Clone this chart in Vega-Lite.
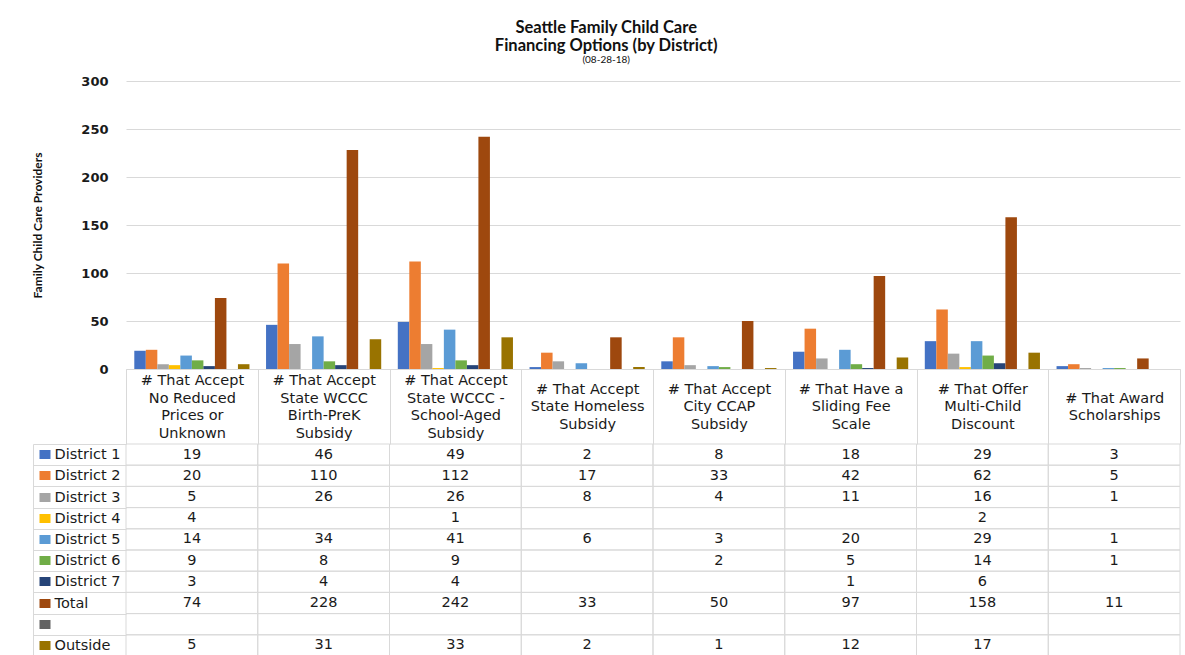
{
  "$schema": "https://vega.github.io/schema/vega-lite/v6.json",
  "padding": {"left": 31, "top": 19, "right": 5, "bottom": 0},
  "background": "white",
  "title": {
    "text": ["Seattle Family Child Care", "Financing Options (by District)"],
    "subtitle": "(08-28-18)",
    "anchor": "middle",
    "frame": "bounds",
    "font": "Lato",
    "fontSize": 16.5,
    "fontWeight": "bold",
    "lineHeight": 18,
    "color": "#111111",
    "subtitleFont": "Lato",
    "subtitleFontSize": 10,
    "subtitleColor": "#111111",
    "subtitlePadding": 1,
    "offset": 10
  },
  "config": {"view": {"stroke": null}},
  "datasets": {
    "cells": [
      {"cat": "# That Accept No Reduced Prices or Unknown", "series": "District 1", "value": 19},
      {"cat": "# That Accept No Reduced Prices or Unknown", "series": "District 2", "value": 20},
      {"cat": "# That Accept No Reduced Prices or Unknown", "series": "District 3", "value": 5},
      {"cat": "# That Accept No Reduced Prices or Unknown", "series": "District 4", "value": 4},
      {"cat": "# That Accept No Reduced Prices or Unknown", "series": "District 5", "value": 14},
      {"cat": "# That Accept No Reduced Prices or Unknown", "series": "District 6", "value": 9},
      {"cat": "# That Accept No Reduced Prices or Unknown", "series": "District 7", "value": 3},
      {"cat": "# That Accept No Reduced Prices or Unknown", "series": "Total", "value": 74},
      {"cat": "# That Accept No Reduced Prices or Unknown", "series": " ", "value": null},
      {"cat": "# That Accept No Reduced Prices or Unknown", "series": "Outside", "value": 5},
      {"cat": "# That Accept State WCCC Birth-PreK Subsidy", "series": "District 1", "value": 46},
      {"cat": "# That Accept State WCCC Birth-PreK Subsidy", "series": "District 2", "value": 110},
      {"cat": "# That Accept State WCCC Birth-PreK Subsidy", "series": "District 3", "value": 26},
      {"cat": "# That Accept State WCCC Birth-PreK Subsidy", "series": "District 4", "value": null},
      {"cat": "# That Accept State WCCC Birth-PreK Subsidy", "series": "District 5", "value": 34},
      {"cat": "# That Accept State WCCC Birth-PreK Subsidy", "series": "District 6", "value": 8},
      {"cat": "# That Accept State WCCC Birth-PreK Subsidy", "series": "District 7", "value": 4},
      {"cat": "# That Accept State WCCC Birth-PreK Subsidy", "series": "Total", "value": 228},
      {"cat": "# That Accept State WCCC Birth-PreK Subsidy", "series": " ", "value": null},
      {"cat": "# That Accept State WCCC Birth-PreK Subsidy", "series": "Outside", "value": 31},
      {"cat": "# That Accept State WCCC - School-Aged Subsidy", "series": "District 1", "value": 49},
      {"cat": "# That Accept State WCCC - School-Aged Subsidy", "series": "District 2", "value": 112},
      {"cat": "# That Accept State WCCC - School-Aged Subsidy", "series": "District 3", "value": 26},
      {"cat": "# That Accept State WCCC - School-Aged Subsidy", "series": "District 4", "value": 1},
      {"cat": "# That Accept State WCCC - School-Aged Subsidy", "series": "District 5", "value": 41},
      {"cat": "# That Accept State WCCC - School-Aged Subsidy", "series": "District 6", "value": 9},
      {"cat": "# That Accept State WCCC - School-Aged Subsidy", "series": "District 7", "value": 4},
      {"cat": "# That Accept State WCCC - School-Aged Subsidy", "series": "Total", "value": 242},
      {"cat": "# That Accept State WCCC - School-Aged Subsidy", "series": " ", "value": null},
      {"cat": "# That Accept State WCCC - School-Aged Subsidy", "series": "Outside", "value": 33},
      {"cat": "# That Accept State Homeless Subsidy", "series": "District 1", "value": 2},
      {"cat": "# That Accept State Homeless Subsidy", "series": "District 2", "value": 17},
      {"cat": "# That Accept State Homeless Subsidy", "series": "District 3", "value": 8},
      {"cat": "# That Accept State Homeless Subsidy", "series": "District 4", "value": null},
      {"cat": "# That Accept State Homeless Subsidy", "series": "District 5", "value": 6},
      {"cat": "# That Accept State Homeless Subsidy", "series": "District 6", "value": null},
      {"cat": "# That Accept State Homeless Subsidy", "series": "District 7", "value": null},
      {"cat": "# That Accept State Homeless Subsidy", "series": "Total", "value": 33},
      {"cat": "# That Accept State Homeless Subsidy", "series": " ", "value": null},
      {"cat": "# That Accept State Homeless Subsidy", "series": "Outside", "value": 2},
      {"cat": "# That Accept City CCAP Subsidy", "series": "District 1", "value": 8},
      {"cat": "# That Accept City CCAP Subsidy", "series": "District 2", "value": 33},
      {"cat": "# That Accept City CCAP Subsidy", "series": "District 3", "value": 4},
      {"cat": "# That Accept City CCAP Subsidy", "series": "District 4", "value": null},
      {"cat": "# That Accept City CCAP Subsidy", "series": "District 5", "value": 3},
      {"cat": "# That Accept City CCAP Subsidy", "series": "District 6", "value": 2},
      {"cat": "# That Accept City CCAP Subsidy", "series": "District 7", "value": null},
      {"cat": "# That Accept City CCAP Subsidy", "series": "Total", "value": 50},
      {"cat": "# That Accept City CCAP Subsidy", "series": " ", "value": null},
      {"cat": "# That Accept City CCAP Subsidy", "series": "Outside", "value": 1},
      {"cat": "# That Have a Sliding Fee Scale", "series": "District 1", "value": 18},
      {"cat": "# That Have a Sliding Fee Scale", "series": "District 2", "value": 42},
      {"cat": "# That Have a Sliding Fee Scale", "series": "District 3", "value": 11},
      {"cat": "# That Have a Sliding Fee Scale", "series": "District 4", "value": null},
      {"cat": "# That Have a Sliding Fee Scale", "series": "District 5", "value": 20},
      {"cat": "# That Have a Sliding Fee Scale", "series": "District 6", "value": 5},
      {"cat": "# That Have a Sliding Fee Scale", "series": "District 7", "value": 1},
      {"cat": "# That Have a Sliding Fee Scale", "series": "Total", "value": 97},
      {"cat": "# That Have a Sliding Fee Scale", "series": " ", "value": null},
      {"cat": "# That Have a Sliding Fee Scale", "series": "Outside", "value": 12},
      {"cat": "# That Offer Multi-Child Discount", "series": "District 1", "value": 29},
      {"cat": "# That Offer Multi-Child Discount", "series": "District 2", "value": 62},
      {"cat": "# That Offer Multi-Child Discount", "series": "District 3", "value": 16},
      {"cat": "# That Offer Multi-Child Discount", "series": "District 4", "value": 2},
      {"cat": "# That Offer Multi-Child Discount", "series": "District 5", "value": 29},
      {"cat": "# That Offer Multi-Child Discount", "series": "District 6", "value": 14},
      {"cat": "# That Offer Multi-Child Discount", "series": "District 7", "value": 6},
      {"cat": "# That Offer Multi-Child Discount", "series": "Total", "value": 158},
      {"cat": "# That Offer Multi-Child Discount", "series": " ", "value": null},
      {"cat": "# That Offer Multi-Child Discount", "series": "Outside", "value": 17},
      {"cat": "# That Award Scholarships", "series": "District 1", "value": 3},
      {"cat": "# That Award Scholarships", "series": "District 2", "value": 5},
      {"cat": "# That Award Scholarships", "series": "District 3", "value": 1},
      {"cat": "# That Award Scholarships", "series": "District 4", "value": null},
      {"cat": "# That Award Scholarships", "series": "District 5", "value": 1},
      {"cat": "# That Award Scholarships", "series": "District 6", "value": 1},
      {"cat": "# That Award Scholarships", "series": "District 7", "value": null},
      {"cat": "# That Award Scholarships", "series": "Total", "value": 11},
      {"cat": "# That Award Scholarships", "series": " ", "value": null},
      {"cat": "# That Award Scholarships", "series": "Outside", "value": null}
    ]
  },
  "bounds": "flush",
  "spacing": 75,
  "resolve": {"scale": {"x": "shared"}},
  "vconcat": [
    {
      "width": 1054,
      "height": 288,
      "data": {"name": "cells"},
      "mark": {"type": "bar"},
      "encoding": {
        "x": {
          "field": "cat",
          "type": "nominal",
          "scale": {
            "domain": ["# That Accept No Reduced Prices or Unknown", "# That Accept State WCCC Birth-PreK Subsidy", "# That Accept State WCCC - School-Aged Subsidy", "# That Accept State Homeless Subsidy", "# That Accept City CCAP Subsidy", "# That Have a Sliding Fee Scale", "# That Offer Multi-Child Discount", "# That Award Scholarships"],
            "paddingInner": 0,
            "paddingOuter": 0
          },
          "axis": {
            "title": null,
            "orient": "bottom",
            "domain": true,
            "domainColor": "#D9D9D9",
            "ticks": true,
            "tickBand": "extent",
            "tickSize": 75,
            "tickColor": "#D9D9D9",
            "labelAngle": 0,
            "labelFont": "DejaVu Sans",
            "labelFontSize": 14.5,
            "labelColor": "#1a1a1a",
            "labelBaseline": "middle",
            "labelPadding": -63.5,
            "labelLineHeight": 8.75,
            "labelOverlap": false,
            "labelLimit": 300,
            "labelExpr": "[['# That Accept','\u200b','No Reduced','\u200b','Prices or','\u200b','Unknown'],['# That Accept','\u200b','State WCCC','\u200b','Birth-PreK','\u200b','Subsidy'],['# That Accept','\u200b','State WCCC -','\u200b','School-Aged','\u200b','Subsidy'],['\u200b','# That Accept','\u200b','State Homeless','\u200b','Subsidy'],['\u200b','# That Accept','\u200b','City CCAP','\u200b','Subsidy'],['\u200b','# That Have a','\u200b','Sliding Fee','\u200b','Scale'],['\u200b','# That Offer','\u200b','Multi-Child','\u200b','Discount'],['\u200b','\u200b','# That Award','\u200b','Scholarships']][indexof(['# That Accept No Reduced Prices or Unknown','# That Accept State WCCC Birth-PreK Subsidy','# That Accept State WCCC - School-Aged Subsidy','# That Accept State Homeless Subsidy','# That Accept City CCAP Subsidy','# That Have a Sliding Fee Scale','# That Offer Multi-Child Discount','# That Award Scholarships'], datum.value)]"
          }
        },
        "xOffset": {
          "field": "series",
          "type": "nominal",
          "scale": {
            "domain": ["District 1", "District 2", "District 3", "District 4", "District 5", "District 6", "District 7", "Total", " ", "Outside"],
            "paddingInner": 0,
            "paddingOuter": 0.72
          }
        },
        "y": {
          "field": "value",
          "type": "quantitative",
          "scale": {"domain": [0, 300], "nice": false},
          "axis": {
            "title": "Family Child Care Providers",
            "titleFont": "Lato",
            "titleFontSize": 12,
            "titleFontWeight": "bold",
            "titleColor": "#111111",
            "titlePadding": 36,
            "values": [0, 50, 100, 150, 200, 250, 300],
            "labelFont": "DejaVu Sans",
            "labelFontSize": 13,
            "labelFontWeight": "bold",
            "labelColor": "#1a1a1a",
            "labelPadding": 18,
            "ticks": false,
            "domain": false,
            "grid": true,
            "gridColor": "#D9D9D9"
          }
        },
        "color": {
          "field": "series",
          "type": "nominal",
          "scale": {
            "domain": ["District 1", "District 2", "District 3", "District 4", "District 5", "District 6", "District 7", "Total", " ", "Outside"],
            "range": ["#4472C4", "#ED7D31", "#A5A5A5", "#FFC000", "#5B9BD5", "#70AD47", "#264478", "#9E480E", "#636363", "#997300"]
          },
          "legend": null
        }
      }
    },
    {
      "width": 1054,
      "height": 212,
      "data": {"name": "cells"},
      "resolve": {"axis": {"y": "independent"}},
      "layer": [
        {
          "mark": {"type": "rect", "fill": "transparent", "stroke": "#D9D9D9", "strokeWidth": 1},
          "encoding": {
            "x": {"field": "cat", "type": "nominal", "axis": null},
            "y": {
              "field": "series",
              "type": "nominal",
              "scale": {
                "domain": ["District 1", "District 2", "District 3", "District 4", "District 5", "District 6", "District 7", "Total", " ", "Outside"],
                "paddingInner": 0,
                "paddingOuter": 0
              },
              "axis": {
                "orient": "left",
                "title": null,
                "offset": 93,
                "domain": true,
                "domainColor": "#D9D9D9",
                "ticks": true,
                "tickBand": "extent",
                "tickSize": -93,
                "tickColor": "#D9D9D9",
                "grid": false,
                "labels": true,
                "labelAlign": "left",
                "labelBaseline": "middle",
                "labelPadding": 72,
                "labelFont": "DejaVu Sans",
                "labelFontSize": 14.5,
                "labelColor": "#1a1a1a",
                "labelLimit": 200
              }
            }
          }
        },
        {
          "transform": [{"filter": "datum.value != null"}],
          "mark": {"type": "text", "font": "DejaVu Sans", "fontSize": 14.5, "color": "#1a1a1a", "align": "center", "baseline": "middle"},
          "encoding": {
            "x": {"field": "cat", "type": "nominal", "axis": null},
            "y": {
              "field": "series",
              "type": "nominal",
              "axis": {
                "orient": "left",
                "title": null,
                "offset": 76,
                "domain": false,
                "labels": false,
                "grid": false,
                "ticks": true,
                "tickSize": 11,
                "tickWidth": 9,
                "tickCap": "butt",
                "tickColor": {
                  "condition": [
                    {"test": "datum.value === 'District 1'", "value": "#4472C4"},
                    {"test": "datum.value === 'District 2'", "value": "#ED7D31"},
                    {"test": "datum.value === 'District 3'", "value": "#A5A5A5"},
                    {"test": "datum.value === 'District 4'", "value": "#FFC000"},
                    {"test": "datum.value === 'District 5'", "value": "#5B9BD5"},
                    {"test": "datum.value === 'District 6'", "value": "#70AD47"},
                    {"test": "datum.value === 'District 7'", "value": "#264478"},
                    {"test": "datum.value === 'Total'", "value": "#9E480E"},
                    {"test": "datum.value === ' '", "value": "#636363"}
                  ],
                  "value": "#997300"
                }
              }
            },
            "text": {"field": "value", "type": "quantitative"}
          }
        }
      ]
    }
  ]
}
